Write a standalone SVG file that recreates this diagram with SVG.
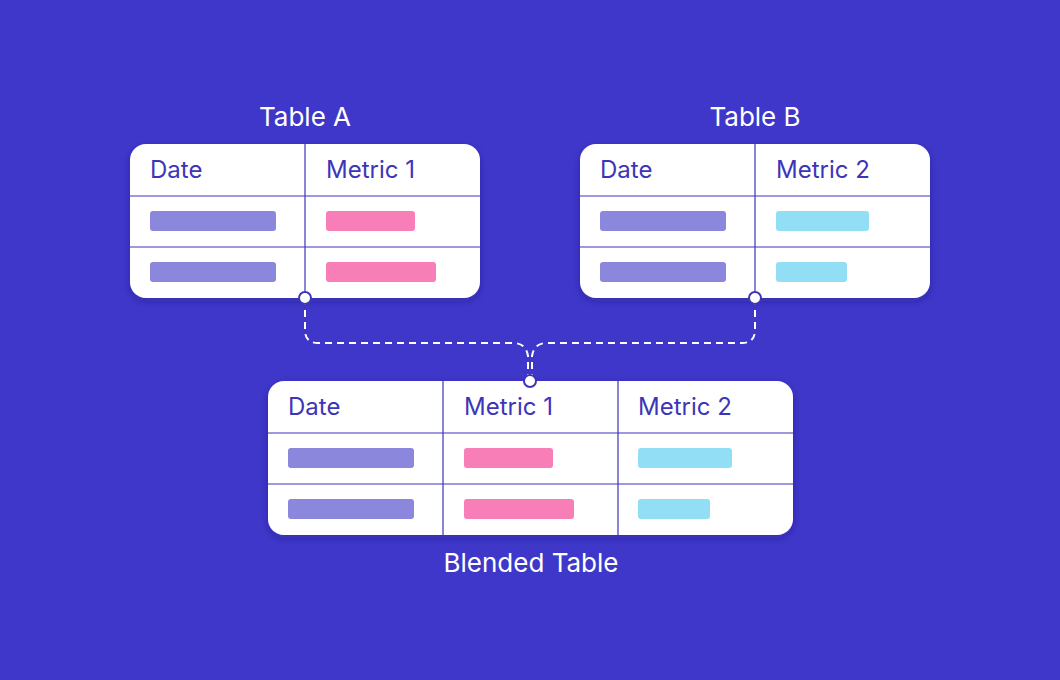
<svg xmlns="http://www.w3.org/2000/svg" width="1060" height="680" viewBox="0 0 1060 680">
<defs>
<style>
.card{fill:#fff}
.ln{stroke:#3d35b8;stroke-width:1.2;fill:none}
.h{font-family:Inter,"Liberation Sans",sans-serif;font-size:24px;fill:#3d35b8}
.t{font-family:Inter,"Liberation Sans",sans-serif;font-size:26px;fill:#fff;text-anchor:middle}
.d{fill:#8b87dc}.p{fill:#f77eb6}.c{fill:#92dff5}
.con{stroke:#fff;stroke-width:2;stroke-dasharray:7 5;fill:none}
.dot{fill:#fff;stroke:#3d35b8;stroke-width:2}
</style>
<filter id="sh" x="-10%" y="-10%" width="120%" height="130%"><feDropShadow dx="0" dy="3" stdDeviation="4" flood-color="#1a1570" flood-opacity="0.35"/></filter>
</defs>
<rect width="1060" height="680" fill="#3f37c9"/>
<g id="connectors">
<path class="con" d="M305,298 V330 Q305,343 318,343 H513 Q526,343 528,356 V381"/>
<path class="con" d="M755,298 V330 Q755,343 742,343 H547 Q534,343 532,356 V381"/>
</g>
<g id="tableA">
<text class="t" x="305" y="126">Table A</text>
<rect class="card" x="130" y="144" width="350" height="154" rx="16" filter="url(#sh)"/>
<path class="ln" d="M130,196H480M130,247H480M305,144V298"/>
<text class="h" x="150" y="178">Date</text><text class="h" x="326" y="178">Metric 1</text>
<rect class="d" x="150" y="211" width="126" height="20" rx="3"/><rect class="p" x="326" y="211" width="89" height="20" rx="3"/>
<rect class="d" x="150" y="262" width="126" height="20" rx="3"/><rect class="p" x="326" y="262" width="110" height="20" rx="3"/>
<circle class="dot" cx="305" cy="298" r="6"/>
</g>
<g id="tableB">
<text class="t" x="755" y="126">Table B</text>
<rect class="card" x="580" y="144" width="350" height="154" rx="16" filter="url(#sh)"/>
<path class="ln" d="M580,196H930M580,247H930M755,144V298"/>
<text class="h" x="600" y="178">Date</text><text class="h" x="776" y="178">Metric 2</text>
<rect class="d" x="600" y="211" width="126" height="20" rx="3"/><rect class="c" x="776" y="211" width="93" height="20" rx="3"/>
<rect class="d" x="600" y="262" width="126" height="20" rx="3"/><rect class="c" x="776" y="262" width="71" height="20" rx="3"/>
<circle class="dot" cx="755" cy="298" r="6"/>
</g>
<g id="blended">
<rect class="card" x="268" y="381" width="525" height="154" rx="16" filter="url(#sh)"/>
<path class="ln" d="M268,433H793M268,484H793M443,381V535M618,381V535"/>
<text class="h" x="288" y="415">Date</text><text class="h" x="464" y="415">Metric 1</text><text class="h" x="638" y="415">Metric 2</text>
<rect class="d" x="288" y="448" width="126" height="20" rx="3"/><rect class="p" x="464" y="448" width="89" height="20" rx="3"/><rect class="c" x="638" y="448" width="94" height="20" rx="3"/>
<rect class="d" x="288" y="499" width="126" height="20" rx="3"/><rect class="p" x="464" y="499" width="110" height="20" rx="3"/><rect class="c" x="638" y="499" width="72" height="20" rx="3"/>
<circle class="dot" cx="530" cy="381" r="6"/>
<text class="t" x="531" y="572">Blended Table</text>
</g>
</svg>
